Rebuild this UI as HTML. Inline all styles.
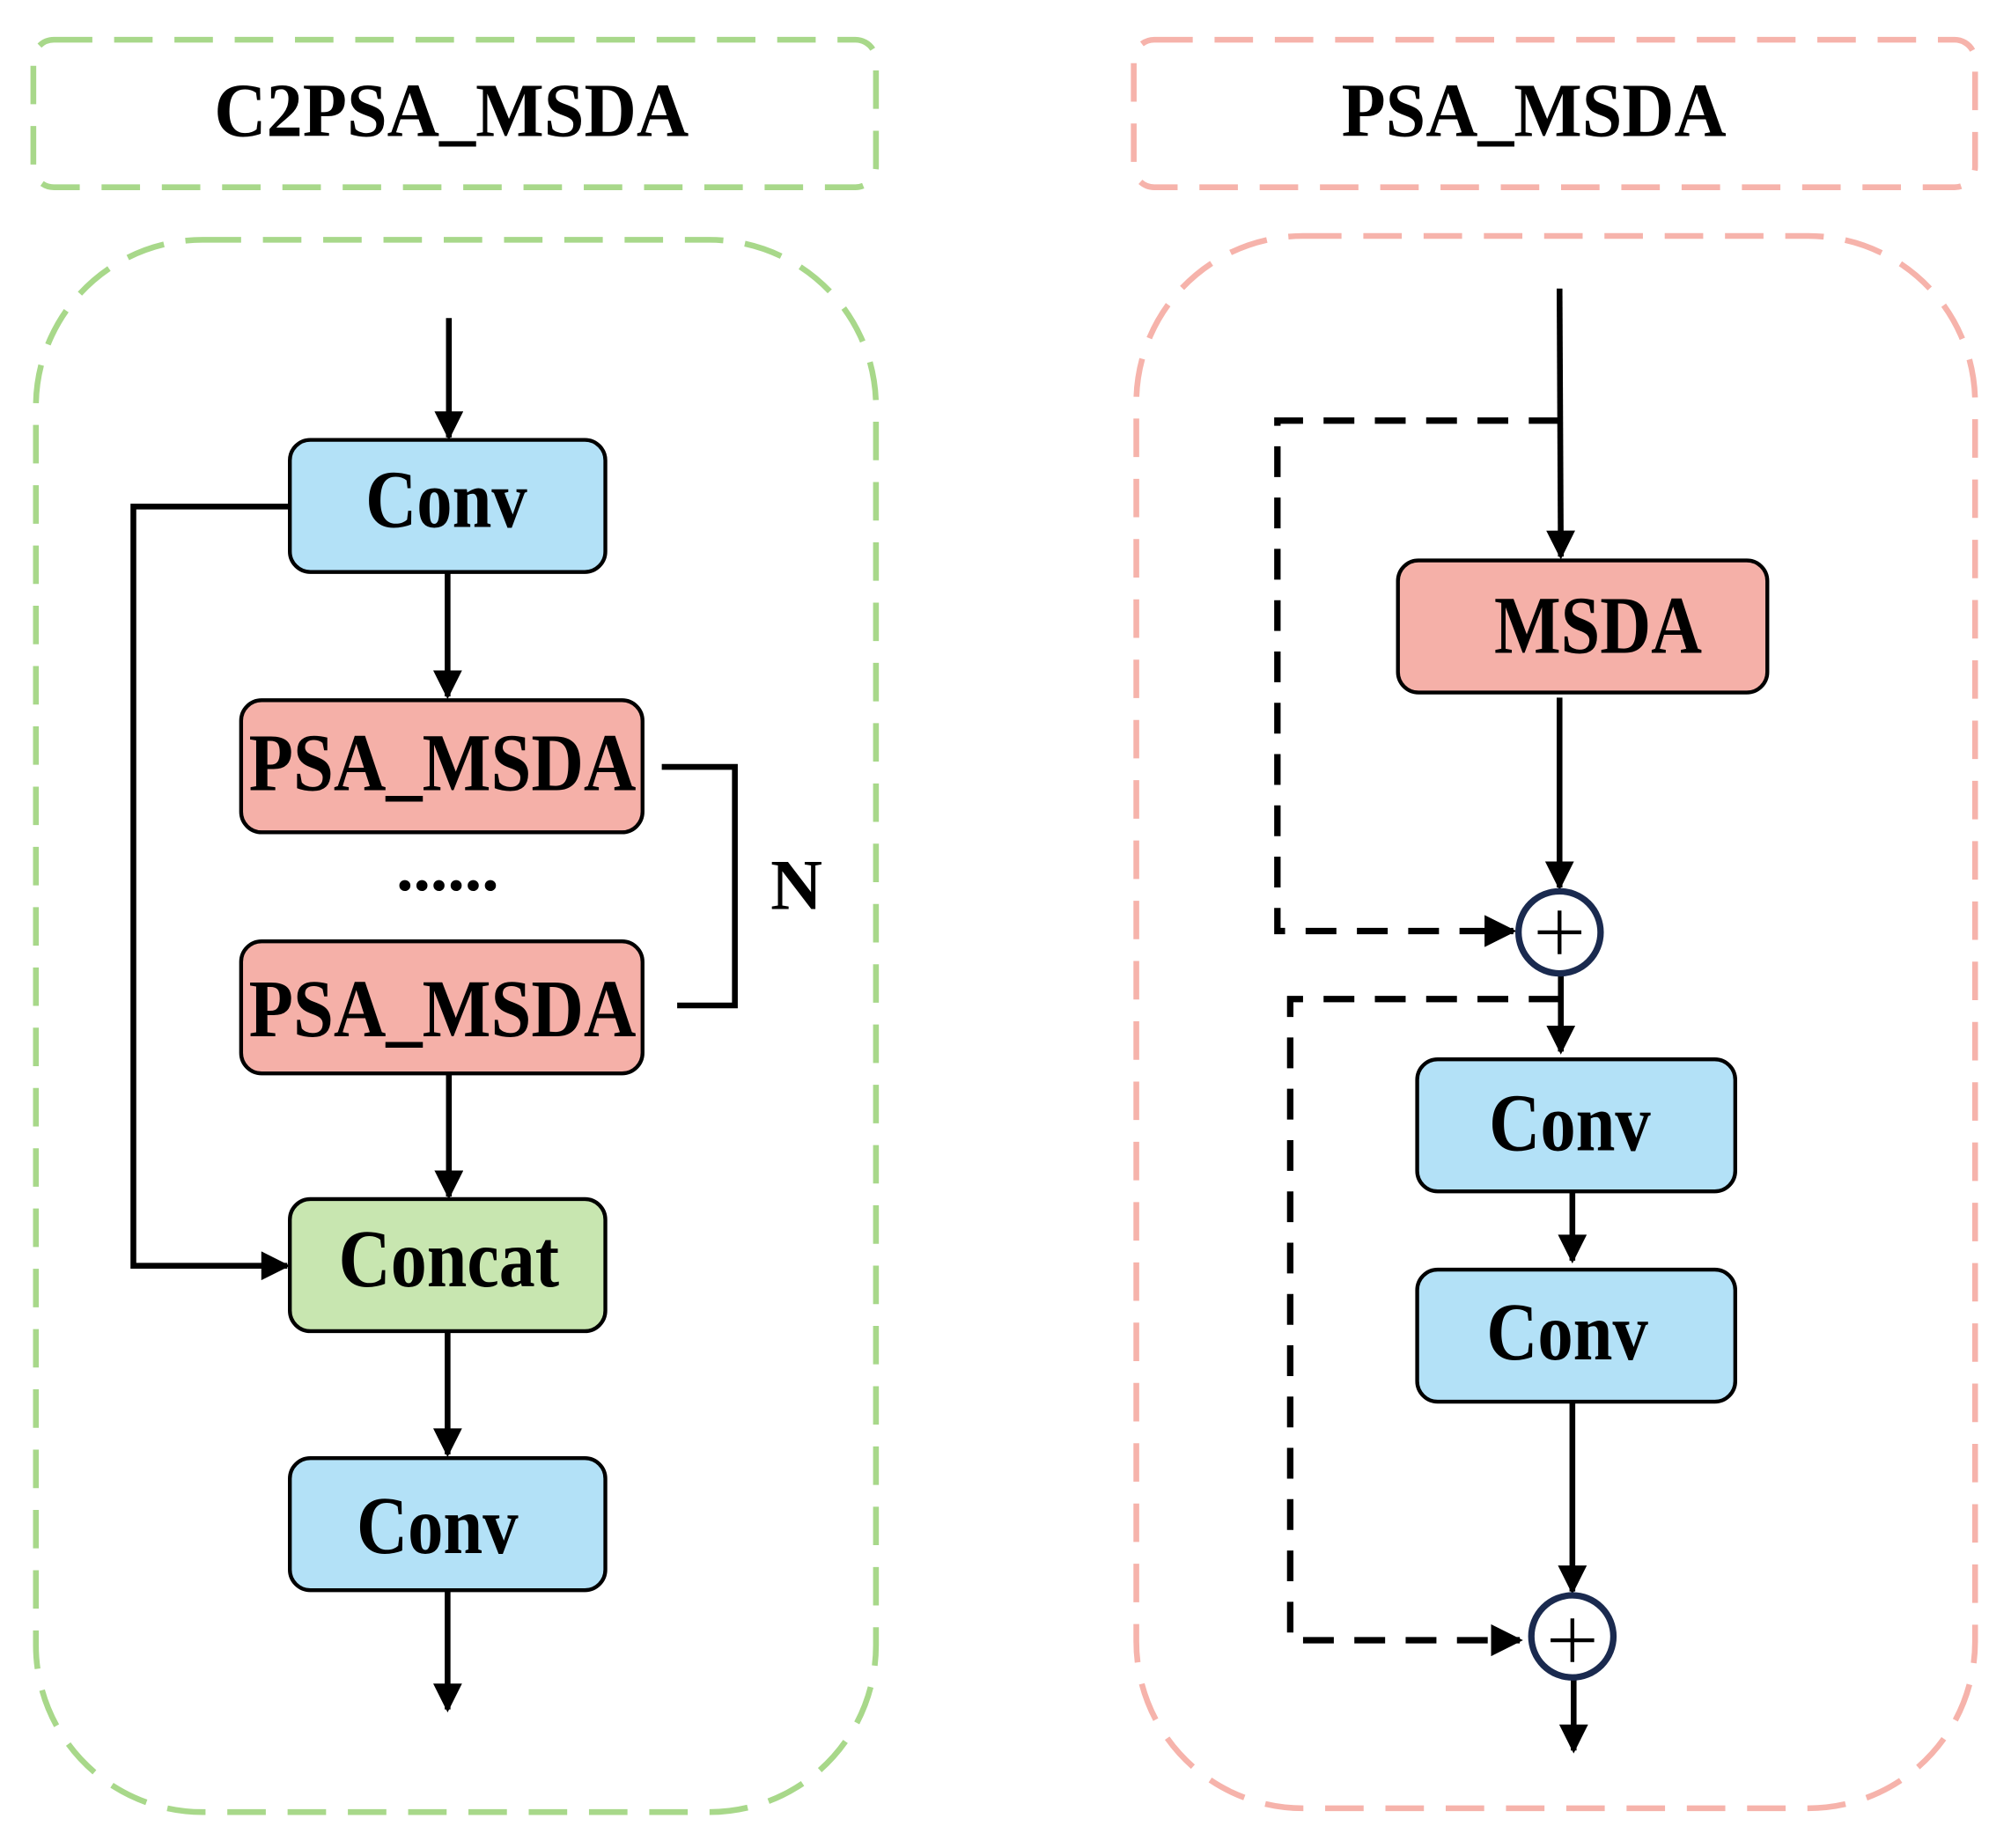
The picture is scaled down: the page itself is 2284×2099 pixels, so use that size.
<!DOCTYPE html>
<html><head><meta charset="utf-8"><style>html,body{margin:0;padding:0;background:#fff}svg{display:block}</style></head>
<body>
<svg width="2284" height="2099" viewBox="0 0 1568 1441" preserveAspectRatio="none" xmlns="http://www.w3.org/2000/svg">
<defs>
<marker id="a" viewBox="0 0 10 10" refX="9" refY="5" markerWidth="5.5" markerHeight="5" orient="auto" markerUnits="strokeWidth"><path d="M0,0 L10,5 L0,10 z" fill="#000"/></marker>
<marker id="b" viewBox="0 0 10 10" refX="9" refY="5" markerWidth="5" markerHeight="5" orient="auto" markerUnits="strokeWidth"><path d="M0,0 L10,5 L0,10 z" fill="#000"/></marker>
</defs>
<g fill="none" stroke-width="4.5" stroke-dasharray="30,17">
<rect x="26" y="31" width="657" height="115" rx="16" stroke="#a8d88a"/>
<rect x="28" y="187" width="655" height="1226" rx="130" stroke="#a8d88a"/>
<rect x="884" y="31" width="656" height="115" rx="16" stroke="#f6b3ab"/>
<rect x="886" y="184" width="654" height="1226" rx="130" stroke="#f6b3ab"/>
</g>
<g font-family="Liberation Serif, serif" font-weight="bold" fill="#000" text-anchor="middle">
<text x="352" y="106" font-size="60" textLength="370" lengthAdjust="spacingAndGlyphs">C2PSA_MSDA</text>
<text x="1196" y="106" font-size="60" textLength="300" lengthAdjust="spacingAndGlyphs">PSA_MSDA</text>
</g>
<g stroke="#000" stroke-width="3">
<rect x="226" y="343" width="246" height="103" rx="16" fill="#b3e1f7"/>
<rect x="188" y="546" width="313" height="103" rx="16" fill="#f5b0a8"/>
<rect x="188" y="734" width="313" height="103" rx="16" fill="#f5b0a8"/>
<rect x="226" y="935" width="246" height="103" rx="16" fill="#c8e6b0"/>
<rect x="226" y="1137" width="246" height="103" rx="16" fill="#b3e1f7"/>
<rect x="1090" y="437" width="288" height="103" rx="16" fill="#f5b0a8"/>
<rect x="1105" y="826" width="248" height="103" rx="16" fill="#b3e1f7"/>
<rect x="1105" y="990" width="248" height="103" rx="16" fill="#b3e1f7"/>
</g>
<g font-family="Liberation Serif, serif" font-weight="bold" fill="#000" text-anchor="middle" font-size="64">
<text x="348" y="411" textLength="126" lengthAdjust="spacingAndGlyphs">Conv</text>
<text x="345" y="616" textLength="302" lengthAdjust="spacingAndGlyphs">PSA_MSDA</text>
<text x="345" y="808" textLength="302" lengthAdjust="spacingAndGlyphs">PSA_MSDA</text>
<text x="350" y="1003" textLength="172" lengthAdjust="spacingAndGlyphs">Concat</text>
<text x="341" y="1211" textLength="126" lengthAdjust="spacingAndGlyphs">Conv</text>
<text x="1246" y="509" textLength="162" lengthAdjust="spacingAndGlyphs">MSDA</text>
<text x="1224" y="897" textLength="126" lengthAdjust="spacingAndGlyphs">Conv</text>
<text x="1222" y="1060" textLength="126" lengthAdjust="spacingAndGlyphs">Conv</text>
<text x="621" y="709" font-size="56">N</text>
<text x="349" y="694" font-size="52" textLength="80" lengthAdjust="spacingAndGlyphs">......</text>
</g>
<g stroke="#000" stroke-width="4.5" fill="none">
<line x1="350" y1="248" x2="350" y2="341" marker-end="url(#a)"/>
<line x1="349" y1="446" x2="349" y2="543" marker-end="url(#a)"/>
<line x1="350" y1="837" x2="350" y2="933" marker-end="url(#a)"/>
<line x1="349" y1="1038" x2="349" y2="1134" marker-end="url(#a)"/>
<line x1="349" y1="1240" x2="349" y2="1333" marker-end="url(#a)"/>
<polyline points="226,395 104,395 104,987 224,987" marker-end="url(#a)"/>
<polyline points="516,598 573,598 573,784 528,784"/>
<line x1="1216" y1="225" x2="1217" y2="434" marker-end="url(#a)"/>
<line x1="1216" y1="544" x2="1216" y2="692" marker-end="url(#a)"/>
<line x1="1217" y1="760" x2="1217" y2="820" marker-end="url(#a)"/>
<line x1="1226" y1="929" x2="1226" y2="983" marker-end="url(#a)"/>
<line x1="1226" y1="1093" x2="1226" y2="1241" marker-end="url(#a)"/>
<line x1="1227" y1="1309" x2="1227" y2="1365" marker-end="url(#a)"/>
</g>
<g stroke="#000" stroke-width="5" fill="none" stroke-dasharray="24,16">
<polyline points="1216,328 996,328 996,726 1180,726" marker-end="url(#b)"/>
<polyline points="1216,779 1006,779 1006,1279 1185,1279" marker-end="url(#b)"/>
</g>
<g stroke="#1a2a4f" stroke-width="5" fill="#fff">
<circle cx="1216" cy="727" r="32"/>
<circle cx="1226" cy="1276" r="32"/>
</g>
<g stroke="#000" stroke-width="3">
<line x1="1199" y1="727" x2="1233" y2="727"/><line x1="1216" y1="710" x2="1216" y2="744"/>
<line x1="1209" y1="1279" x2="1243" y2="1279"/><line x1="1226" y1="1262" x2="1226" y2="1296"/>
</g>
</svg>
</body></html>
